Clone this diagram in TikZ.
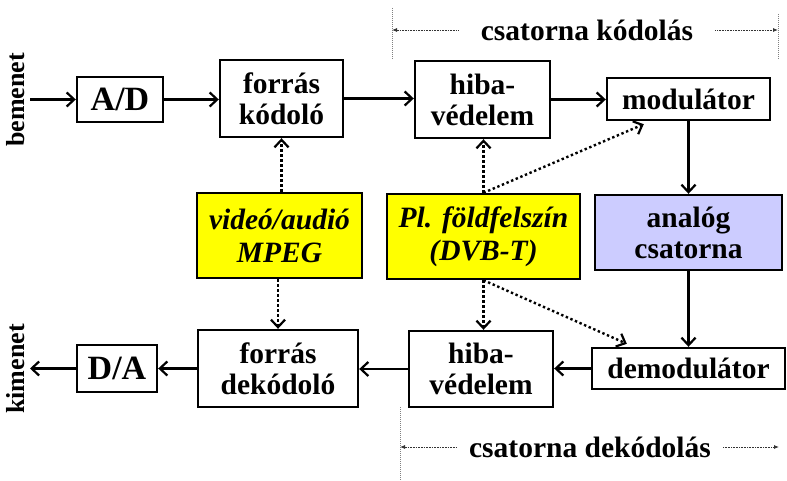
\documentclass[tikz,border=0pt]{standalone}
\usepackage{fontspec}
\setmainfont{Liberation Serif}
\usetikzlibrary{arrows.meta,calc}
\definecolor{boxyellow}{RGB}{255,255,0}
\definecolor{boxlilac}{RGB}{204,204,255}
\begin{document}
\begin{tikzpicture}[x=1pt,y=-1pt,
  blk/.style={draw=black,line width=2.4pt,fill=white,inner sep=0pt,align=center,
    font=\fontsize{29.5}{31}\selectfont\bfseries},
  ybox/.style={blk,fill=boxyellow,font=\fontsize{29.5}{33}\selectfont\bfseries\itshape},
  flow/.style={line width=2.2pt,-{Straight Barb[length=7.5pt,width=14pt,line width=2.2pt]}},
  dotflow/.style={line width=2.4pt,dash pattern=on 2.4pt off 2.6pt,
    -{Straight Barb[length=7.5pt,width=14pt,line width=2.2pt]}},
  dimline/.style={gray,line width=0.8pt,dash pattern=on 1pt off 1pt},
  dimarrow/.style={black!80,line width=0.8pt,dash pattern=on 1pt off 0.6pt,-{Latex[length=5pt,width=4pt]}},
  lbl/.style={font=\fontsize{29.5}{31}\selectfont\bfseries,inner sep=0pt},
  side/.style={font=\fontsize{26}{28}\selectfont\bfseries,inner sep=0pt,rotate=90}
]
\useasboundingbox (0,0) rectangle (787,481);

% blocks
\node[blk,minimum width=86pt,minimum height=45pt,font=\fontsize{34}{36}\selectfont\bfseries] (ad) at (120,99.5) {A/D};
\node[blk,minimum width=123pt,minimum height=77pt] (fk) at (281.5,98.5) {forrás\\kódoló};
\node[blk,minimum width=135pt,minimum height=77pt] (hv1) at (482.5,99.5) {hiba-\\védelem};
\node[blk,minimum width=163pt,minimum height=42pt] (mod) at (688.5,99) {modulátor};
\node[blk,fill=boxlilac,minimum width=187pt,minimum height=75pt] (an) at (688.5,232.5) {analóg\\csatorna};
\node[ybox,minimum width=193pt,minimum height=85pt] (pl) at (483.5,236.5) {Pl. földfelszín\\(DVB-T)};
\node[ybox,minimum width=165pt,minimum height=85pt] (va) at (279.5,235.5) {videó/audió\\MPEG};
\node[blk,minimum width=193pt,minimum height=41pt] (dem) at (688.5,368.5) {demodulátor};
\node[blk,minimum width=144pt,minimum height=76pt] (hv2) at (481,369) {hiba-\\védelem};
\node[blk,minimum width=160pt,minimum height=77pt] (fd) at (278,368.5) {forrás\\dekódoló};
\node[blk,minimum width=80pt,minimum height=47pt,font=\fontsize{34}{36}\selectfont\bfseries] (da) at (117,368.5) {D/A};

% side labels
\node[side] (inl) at (16,100) {bemenet};
\node[side] (outl) at (16,369) {kimenet};
\coordinate (in) at (30,99.5);
\coordinate (out) at (30,368.5);

% solid flow
\draw[flow] (in) -- (ad.west);
\draw[flow] (ad.east) -- (ad.east -| fk.west);
\draw[flow] (fk.east) -- (fk.east -| hv1.west);
\draw[flow] (hv1.east) -- (hv1.east -| mod.west);
\draw[flow] (mod.south) -- (an.north);
\draw[flow] (an.south) -- (dem.north);
\draw[flow] (dem.west) -- (dem.west -| hv2.east);
\draw[flow] (hv2.west) -- (hv2.west -| fd.east);
\draw[flow] (fd.west) -- (fd.west -| da.east);
\draw[flow] (da.west) -- (out);

% dotted flow
\coordinate (modin) at ($(mod.south west)+(38,3)$);
\coordinate (demin) at ($(dem.north west)+(36,-3)$);
\draw[dotflow] (va.north -| fk.south) -- (fk.south);
\draw[dotflow] (va.south -| fd.north) -- (fd.north);
\draw[dotflow] (pl.north) -- (pl.north |- hv1.south);
\draw[dotflow] (pl.north) -- (modin);
\draw[dotflow] (pl.south) -- (pl.south |- hv2.north);
\draw[dotflow] (pl.south) -- (demin);

% channel coding dimension
\coordinate (kl1) at (392,8);
\coordinate (kl2) at (392,60);
\coordinate (kr1) at (778,14);
\coordinate (kr2) at (778,60);
\draw[dimline] (kl1) -- (kl2);
\draw[dimline] (kr1) -- (kr2);
\node[lbl,inner xsep=22pt] (kt) at (587,30) {csatorna kódolás};
\draw[dimarrow] (kt.west) -- (kt.west -| kl1);
\draw[dimarrow] (kt.east) -- (kt.east -| kr1);

% channel decoding dimension
\coordinate (dl1) at (400,407);
\coordinate (dl2) at (400,481);
\draw[dimline] (dl1) -- (dl2);
\coordinate (dr) at (779,447);
\node[lbl,inner xsep=12pt] (dt) at (590,447) {csatorna dekódolás};
\draw[dimarrow] (dt.west) -- (dt.west -| dl1);
\draw[dimarrow] (dt.east) -- (dr);
\end{tikzpicture}
\end{document}
